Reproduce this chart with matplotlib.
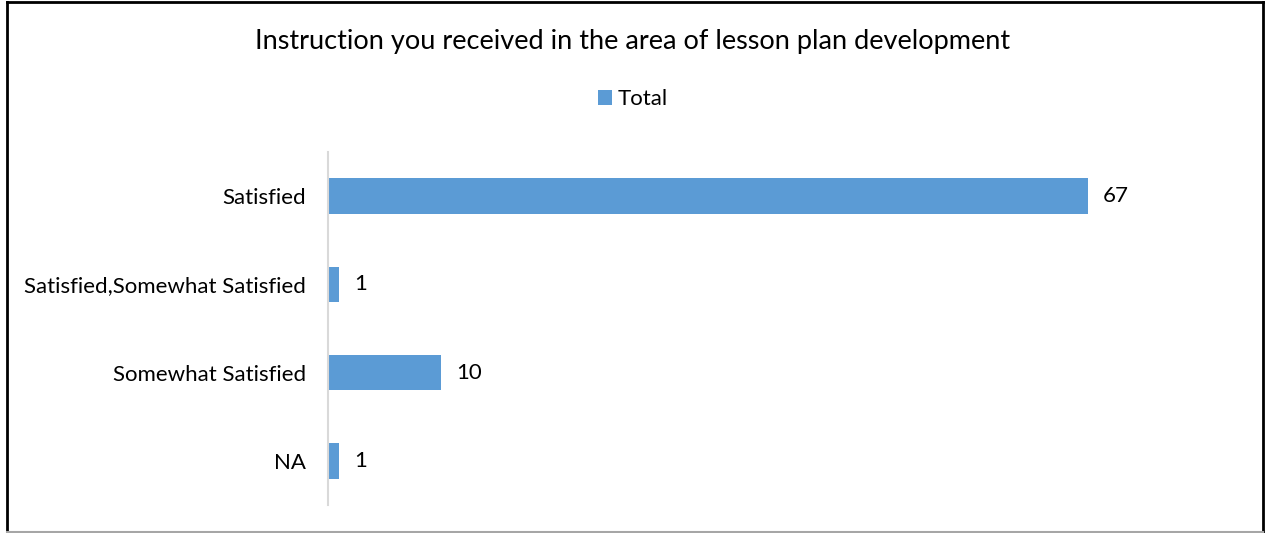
import matplotlib
matplotlib.use("Agg")
from matplotlib import pyplot as plt
from matplotlib.lines import Line2D

plt.rcParams['font.family'] = ['Lato', 'DejaVu Sans']

categories = ['Satisfied', 'Satisfied,Somewhat Satisfied', 'Somewhat Satisfied', 'NA']
totals = [67, 1, 10, 1]
title = 'Instruction you received in the area of lesson plan development'

bar_color = '#5B9BD5'

fig = plt.figure(figsize=(12.66, 5.33), dpi=100)
ax = fig.add_axes([328/1266, 28/533, (1235-328)/1266, (505-152)/533])

ypos = list(range(len(categories)))[::-1]
bars = ax.barh(ypos, totals, height=0.4, color=bar_color, label='Total')
for y, v in zip(ypos, totals):
    ax.text(v + 1.3, y, str(v), va='center', ha='left', fontsize=16, color='#000000')

ax.set_xlim(0, 80)
ax.set_ylim(-0.5, len(categories) - 0.5)
ax.set_yticks(ypos)
ax.set_yticklabels(categories, fontsize=16)
ax.tick_params(axis='y', length=0, pad=16)
ax.set_xticks([])
for s in ['top', 'right', 'bottom']:
    ax.spines[s].set_visible(False)
ax.spines['left'].set_color('#D9D9D9')
ax.spines['left'].set_linewidth(1.5)

fig.text(0.5, 1 - 42/533, title, ha='center', va='center', fontsize=19.5)
fig.legend(handles=[bars], labels=['Total'], loc='center', bbox_to_anchor=(0.5, 1 - 99/533),
           frameon=False, fontsize=16, handlelength=0.65, handleheight=0.65, handletextpad=0.25)

# outer border: black top/left/right, gray bottom
def border(x, y, color, lw):
    fig.add_artist(Line2D(x, y, transform=fig.transFigure, color=color, linewidth=lw))

border([7/1266, 7/1266], [0, 1 - 2/533], '#000000', 2)
border([7/1266, 1263/1266], [1 - 2/533, 1 - 2/533], '#000000', 2)
border([1263/1266, 1263/1266], [0, 1 - 2/533], '#000000', 2)
border([7/1266, 1263/1266], [1.5/533, 1.5/533], '#A6A6A6', 1.5)

fig.savefig('out.png', dpi=100)
